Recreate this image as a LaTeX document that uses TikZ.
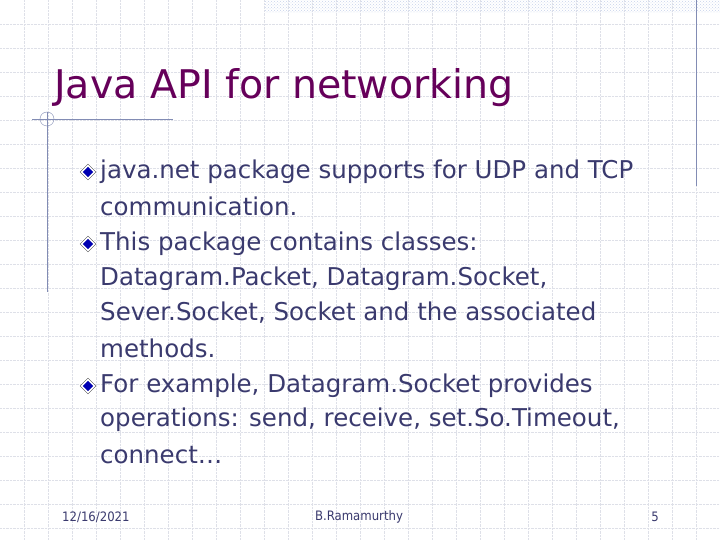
\documentclass[tikz,border=0pt]{standalone}
\usepackage{fontspec}
\setmainfont{DejaVu Sans}
\newfontfamily\condfont{DejaVu Sans Condensed}
\usetikzlibrary{patterns,shapes.geometric}
\definecolor{gridgrey}{RGB}{222,224,232}
\definecolor{rulegrey}{RGB}{130,140,180}
\definecolor{titlepurple}{RGB}{102,0,90}
\definecolor{bodyblue}{RGB}{58,58,110}
\definecolor{bandblue}{RGB}{200,210,235}
\tikzset{
	gridline/.style={gridgrey,densely dotted,thin},%
	frameline/.style={rulegrey,thin},%
	bodytext/.style={anchor=west,inner sep=0pt,text=bodyblue,font=\fontsize{24.5}{26}\selectfont},%
	bullet/.style={diamond,fill=blue!70!black,draw=white,line width=1.2pt,minimum size=13pt,inner sep=0pt},%
	bulletrim/.style={diamond,draw=black!70,thin,minimum size=16pt,inner sep=0pt},%
	foottext/.style={inner sep=0pt,text=bodyblue,font=\condfont\fontsize{13}{15}\selectfont},%
}
\begin{document}
\begin{tikzpicture}[x=1pt,y=-1pt]
	\useasboundingbox (0,0) rectangle (720,540);
	\fill[white] (0,0) rectangle (720,540);
	% background grid
	\foreach \gx in {24,48,...,720} \draw[gridline] (\gx,0) -- (\gx,540);
	\foreach \gy in {24,48,...,540} \draw[gridline] (0,\gy) -- (720,\gy);
	\fill[pattern=crosshatch dots,pattern color=bandblue] (265,0) rectangle (720,13);
	% frame lines
	\draw[frameline] (696,0) -- (696,186);
	\draw[frameline] (47,112) -- (47,292);
	\draw[frameline] (32,119) -- (173,119);
	\draw[frameline] (47,119) circle (7);
	% title
	\node[anchor=west,inner sep=0pt,text=titlepurple,font=\fontsize{39.5}{42}\selectfont] (title) at (54,88) {Java API for networking};
	% bullets
	\foreach \by/\bname in {172/b1,244/b2,386/b3} {
		\node[bulletrim] at (88,\by) {};
		\node[bullet] (\bname) at (88,\by) {};
	}
	\node[bodytext] (l1) at (100,172) {java.net package supports for UDP and TCP};
	\node[bodytext] (l2) at (100,206) {communication.};
	\node[bodytext] (l3) at (100,244) {This package contains classes:};
	\node[bodytext] (l4) at (100,279) {Datagram.Packet, Datagram.Socket,};
	\node[bodytext] (l5) at (100,313) {Sever.Socket, Socket and the associated};
	\node[bodytext] (l6) at (100,348) {methods.};
	\node[bodytext] (l7) at (100,386) {For example, Datagram.Socket provides};
	\node[bodytext] (l8) at (100,420) {operations: send, receive, set.So.Timeout,};
	\node[bodytext] (l9) at (100,455) {connect\ldots};
	% footer
	\node[foottext,anchor=west] (date) at (62,517) {12/16/2021};
	\node[foottext] (author) at (359,517) {B.Ramamurthy};
	\node[foottext] (page) at (655,517) {5};
\end{tikzpicture}
\end{document}
